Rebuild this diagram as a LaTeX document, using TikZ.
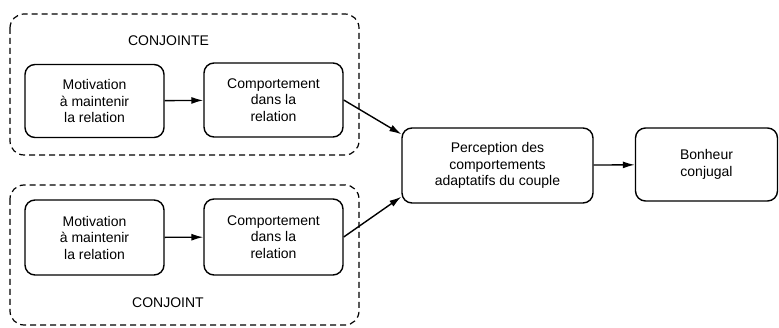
\documentclass[tikz,border=0pt]{standalone}
\usepackage{fontspec}
\setmainfont{Liberation Sans}
\usetikzlibrary{arrows.meta}
\begin{document}
\begin{tikzpicture}[x=1pt,y=-1pt,
  box/.style={draw, line width=1.4pt, rounded corners=10pt, align=center, inner sep=0pt,
    font=\fontsize{14}{16.5}\selectfont},
  group/.style={draw, line width=1.2pt, dash pattern=on 6pt off 4pt, rounded corners=14pt},
  lbl/.style={font=\fontsize{14}{16.5}\selectfont, inner sep=0pt},
  arr/.style={line width=1.4pt, -{Latex[length=12pt,width=7pt]}}]
\useasboundingbox (0,0) rectangle (779,328);
\draw[group] (10,14) rectangle (359,155);
\draw[group] (10,185) rectangle (359,325);
\node[lbl] (conjointe) at (168.5,41) {CONJOINTE};
\node[lbl] (conjoint) at (168,303) {CONJOINT};
\node[box, minimum width=139pt, minimum height=73pt] (mt) at (94.5,101) {Motivation\\à maintenir\\la relation};
\node[box, minimum width=139pt, minimum height=74pt] (ct) at (273.5,100) {Comportement\\dans la\\relation};
\node[box, minimum width=139pt, minimum height=75pt] (mb) at (94.5,237.5) {Motivation\\à maintenir\\la relation};
\node[box, minimum width=139pt, minimum height=76pt] (cb) at (273.5,237) {Comportement\\dans la\\relation};
\node[box, minimum width=191pt, minimum height=75pt] (perc) at (497.5,165.5) {Perception des\\comportements\\adaptatifs du couple};
\node[box, minimum width=142pt, minimum height=73pt] (bon) at (706.5,164.5) {Bonheur\\conjugal};
\draw[arr] (mt) -- (ct);
\draw[arr] (mb) -- (cb);
\draw[arr] (ct.east) -- (perc.162);
\draw[arr] (cb.east) -- (perc.198);
\draw[arr] (perc) -- (bon);
\end{tikzpicture}
\end{document}
